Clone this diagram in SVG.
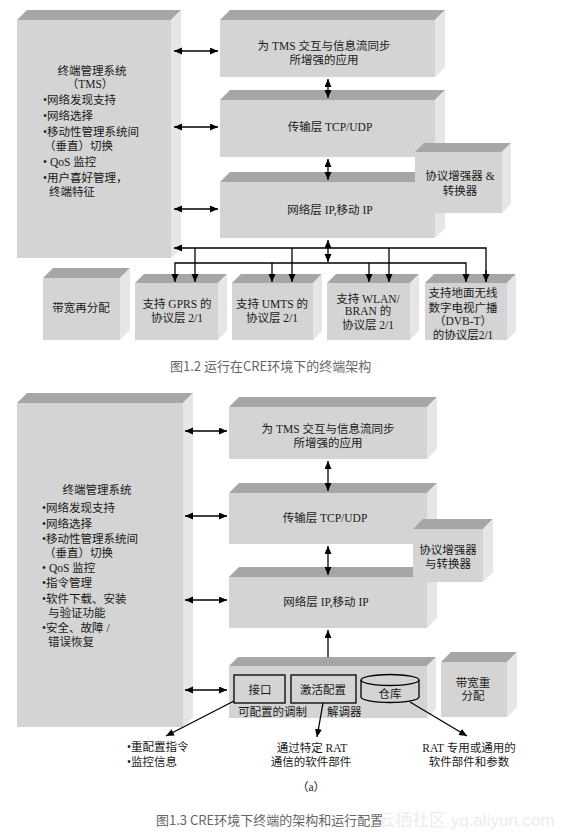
<svg xmlns="http://www.w3.org/2000/svg" width="572" height="835" viewBox="0 0 572 835">
<style>
.fr{fill:#d4d4d4}
.tp{fill:#a6a6a6}
.sd{fill:#e6e6e6}
.t{font-family:"Liberation Serif","Noto Sans CJK SC",serif;font-size:11.5px;fill:#1a1a1a}
.c{text-anchor:middle}
.ln{stroke:#000;stroke-width:1.3;fill:none}
.ib{fill:#d4d4d4;stroke:#000;stroke-width:1.3}
.cap{font-family:"Noto Sans CJK SC","Liberation Sans",sans-serif;font-size:13px;fill:#666}
.wm{font-family:"Liberation Sans","Noto Sans CJK SC",sans-serif;font-size:17px;fill:#ececec}
</style>
<defs>
<marker id="ah" markerUnits="userSpaceOnUse" markerWidth="9" markerHeight="8" refX="8" refY="3.5" orient="auto-start-reverse"><path d="M0,0 L8,3.5 L0,7 z" fill="#000"/></marker>
</defs>

<!-- ===== Figure 1.2 ===== -->
<g id="tms1">
<rect class="fr" x="17" y="20" width="154" height="238"/>
<polygon class="tp" points="17,20 27,10 181,10 171,20"/>
<polygon class="sd" points="171,20 181,10 181,248 171,258"/>
<text class="t c" x="92" y="75">终端管理系统</text>
<text class="t c" x="90" y="88">（TMS）</text>
<text class="t" x="43" y="104">•网络发现支持</text>
<text class="t" x="43" y="120">•网络选择</text>
<text class="t" x="43" y="136">•移动性管理系统间</text>
<text class="t" x="44" y="150">（垂直）切换</text>
<text class="t" x="43" y="166">• QoS 监控</text>
<text class="t" x="43" y="182">•用户喜好管理，</text>
<text class="t" x="49" y="196">终端特征</text>
</g>
<g id="app1">
<rect class="fr" x="220" y="20" width="215" height="57"/>
<polygon class="tp" points="220,20 230,10 445,10 435,20"/>
<polygon class="sd" points="435,20 445,10 445,67 435,77"/>
<text class="t c" x="324" y="50">为 TMS 交互与信息流同步</text>
<text class="t c" x="324" y="64">所增强的应用</text>
</g>
<g id="tr1">
<rect class="fr" x="220" y="100" width="215" height="57"/>
<polygon class="tp" points="220,100 230,90 445,90 435,100"/>
<polygon class="sd" points="435,100 445,90 445,147 435,157"/>
<text class="t c" x="330" y="131">传输层 TCP/UDP</text>
</g>
<g id="net1">
<rect class="fr" x="220" y="182" width="215" height="56"/>
<polygon class="tp" points="220,182 230,172 445,172 435,182"/>
<polygon class="sd" points="435,182 445,172 445,228 435,238"/>
<text class="t c" x="330" y="214">网络层 IP,移动 IP</text>
</g>
<g id="enh1">
<rect class="fr" x="415" y="152" width="87" height="61"/>
<polygon class="tp" points="415,152 424,143 511,143 502,152"/>
<polygon class="sd" points="502,152 511,143 511,204 502,213"/>
<text class="t c" x="460" y="180">协议增强器 &amp;</text>
<text class="t c" x="460" y="195">转换器</text>
</g>
<g id="bw1">
<rect class="fr" x="43" y="278" width="77" height="62"/>
<polygon class="tp" points="43,278 53,268 130,268 120,278"/>
<polygon class="sd" points="120,278 130,268 130,330 120,340"/>
<text class="t c" x="81" y="312">带宽再分配</text>
</g>
<g id="gprs">
<rect class="fr" x="135" y="283" width="83" height="57"/>
<polygon class="tp" points="135,283 144,274 227,274 218,283"/>
<polygon class="sd" points="218,283 227,274 227,331 218,340"/>
<text class="t c" x="177" y="308">支持 GPRS 的</text>
<text class="t c" x="177" y="322">协议层 2/1</text>
</g>
<g id="umts">
<rect class="fr" x="232" y="283" width="81" height="57"/>
<polygon class="tp" points="232,283 241,274 322,274 313,283"/>
<polygon class="sd" points="313,283 322,274 322,331 313,340"/>
<text class="t c" x="272" y="308">支持 UMTS 的</text>
<text class="t c" x="272" y="322">协议层 2/1</text>
</g>
<g id="wlan">
<rect class="fr" x="327" y="283" width="83" height="57"/>
<polygon class="tp" points="327,283 336,274 419,274 410,283"/>
<polygon class="sd" points="410,283 419,274 419,331 410,340"/>
<text class="t c" x="368" y="303">支持 WLAN/</text>
<text class="t c" x="368" y="315">BRAN 的</text>
<text class="t c" x="368" y="329">协议层 2/1</text>
</g>
<g id="dvb">
<rect class="fr" x="425" y="283" width="82" height="57"/>
<polygon class="tp" points="425,283 434,274 516,274 507,283"/>
<polygon class="sd" points="507,283 516,274 516,331 507,340"/>
<text class="t c" x="463" y="297">支持地面无线</text>
<text class="t c" x="463" y="312">数字电视广播</text>
<text class="t c" x="463" y="325">（DVB-T）</text>
<text class="t c" x="463" y="339">的协议层2/1</text>
</g>

<g id="connectors1">
<line class="ln" x1="174" y1="51" x2="218" y2="51" marker-start="url(#ah)" marker-end="url(#ah)"/>
<line class="ln" x1="174" y1="127" x2="218" y2="127" marker-start="url(#ah)" marker-end="url(#ah)"/>
<line class="ln" x1="174" y1="209" x2="218" y2="209" marker-start="url(#ah)" marker-end="url(#ah)"/>
<line class="ln" x1="328" y1="79" x2="328" y2="98" marker-start="url(#ah)" marker-end="url(#ah)"/>
<line class="ln" x1="328" y1="159" x2="328" y2="180" marker-start="url(#ah)" marker-end="url(#ah)"/>
<line class="ln" x1="328" y1="240" x2="328" y2="262" marker-start="url(#ah)" marker-end="url(#ah)"/>
<polyline class="ln" points="486,282 486,248 174,248" marker-end="url(#ah)"/>
<polyline class="ln" points="175,282 175,263 466,263 466,282" marker-start="url(#ah)" marker-end="url(#ah)"/>
<line class="ln" x1="195" y1="248" x2="195" y2="282" marker-end="url(#ah)"/>
<line class="ln" x1="292" y1="248" x2="292" y2="282" marker-end="url(#ah)"/>
<line class="ln" x1="389" y1="248" x2="389" y2="282" marker-end="url(#ah)"/>
<line class="ln" x1="272" y1="263" x2="272" y2="282" marker-end="url(#ah)"/>
<line class="ln" x1="369" y1="263" x2="369" y2="282" marker-end="url(#ah)"/>
<line class="ln" x1="486" y1="270" x2="486" y2="282" marker-end="url(#ah)"/>
</g>
<text class="cap" x="170" y="371">图1.2 运行在CRE环境下的终端架构</text>

<!-- ===== Figure 1.3 ===== -->
<g id="tms2">
<rect class="fr" x="17" y="403" width="166" height="324"/>
<polygon class="tp" points="17,403 27,393 193,393 183,403"/>
<polygon class="sd" points="183,403 193,393 193,717 183,727"/>
<text class="t c" x="97" y="494">终端管理系统</text>
<text class="t" x="42" y="512">•网络发现支持</text>
<text class="t" x="42" y="528">•网络选择</text>
<text class="t" x="42" y="543">•移动性管理系统间</text>
<text class="t" x="44" y="557">（垂直）切换</text>
<text class="t" x="42" y="572">• QoS 监控</text>
<text class="t" x="42" y="587">•指令管理</text>
<text class="t" x="42" y="603">•软件下载、安装</text>
<text class="t" x="48" y="617">与验证功能</text>
<text class="t" x="42" y="632">•安全、故障 /</text>
<text class="t" x="48" y="646">错误恢复</text>
</g>
<g id="app2">
<rect class="fr" x="229" y="407" width="198" height="52"/>
<polygon class="tp" points="229,407 239,397 437,397 427,407"/>
<polygon class="sd" points="427,407 437,397 437,449 427,459"/>
<text class="t c" x="328" y="433">为 TMS 交互与信息流同步</text>
<text class="t c" x="328" y="447">所增强的应用</text>
</g>
<g id="tr2">
<rect class="fr" x="229" y="493" width="198" height="51"/>
<polygon class="tp" points="229,493 239,483 437,483 427,493"/>
<polygon class="sd" points="427,493 437,483 437,534 427,544"/>
<text class="t c" x="325" y="522">传输层 TCP/UDP</text>
</g>
<g id="net2">
<rect class="fr" x="229" y="577" width="198" height="51"/>
<polygon class="tp" points="229,577 239,567 437,567 427,577"/>
<polygon class="sd" points="427,577 437,567 437,618 427,628"/>
<text class="t c" x="326" y="606">网络层 IP,移动 IP</text>
</g>
<g id="enh2">
<rect class="fr" x="413" y="529" width="70" height="53"/>
<polygon class="tp" points="413,529 423,519 493,519 483,529"/>
<polygon class="sd" points="483,529 493,519 493,572 483,582"/>
<text class="t c" x="448" y="554">协议增强器</text>
<text class="t c" x="448" y="568">与转换器</text>
</g>
<g id="cmd">
<rect class="fr" x="229" y="666" width="198" height="52"/>
<polygon class="tp" points="229,666 238,657 436,657 427,666"/>
<polygon class="sd" points="427,666 436,657 436,709 427,718"/>
<text class="t" x="238" y="716">可配置的调制</text>
<text class="t" x="327" y="716">解调器</text>
</g>
<g id="iface">
<rect class="ib" x="234" y="675" width="51" height="28"/>
<text class="t c" x="260" y="694">接口</text>
</g>
<g id="activ">
<rect class="ib" x="291" y="675" width="65" height="28"/>
<text class="t c" x="323" y="694">激活配置</text>
</g>
<g id="repo">
<path class="ib" d="M361,680 L361,697 A29,5.5 0 0 0 419,697 L419,680"/>
<ellipse class="ib" cx="390" cy="680" rx="29" ry="5.5"/>
<text class="t c" x="390" y="698">仓库</text>
</g>
<g id="bw2">
<rect class="fr" x="441" y="662" width="66" height="55"/>
<polygon class="tp" points="441,662 451,652 517,652 507,662"/>
<polygon class="sd" points="507,662 517,652 517,707 507,717"/>
<text class="t c" x="473" y="687">带宽重</text>
<text class="t c" x="473" y="700">分配</text>
</g>

<g id="connectors2">
<line class="ln" x1="185" y1="431" x2="227" y2="431" marker-start="url(#ah)" marker-end="url(#ah)"/>
<line class="ln" x1="185" y1="516" x2="227" y2="516" marker-start="url(#ah)" marker-end="url(#ah)"/>
<line class="ln" x1="185" y1="600" x2="227" y2="600" marker-start="url(#ah)" marker-end="url(#ah)"/>
<line class="ln" x1="185" y1="690" x2="227" y2="690" marker-start="url(#ah)" marker-end="url(#ah)"/>
<line class="ln" x1="328" y1="461" x2="328" y2="491" marker-start="url(#ah)" marker-end="url(#ah)"/>
<line class="ln" x1="328" y1="546" x2="328" y2="575" marker-start="url(#ah)" marker-end="url(#ah)"/>
<line class="ln" x1="328" y1="657" x2="328" y2="630" marker-end="url(#ah)"/>
<line class="ln" x1="234" y1="701" x2="166" y2="736" marker-end="url(#ah)"/>
<line class="ln" x1="323" y1="703" x2="317" y2="737" marker-end="url(#ah)"/>
<line class="ln" x1="410" y1="702" x2="467" y2="736" marker-end="url(#ah)"/>
</g>
<text class="t" x="127" y="751">•重配置指令</text>
<text class="t" x="127" y="766">•监控信息</text>
<text class="t c" x="312" y="752">通过特定 RAT</text>
<text class="t c" x="311" y="766">通信的软件部件</text>
<text class="t c" x="469" y="752">RAT 专用或通用的</text>
<text class="t c" x="469" y="766">软件部件和参数</text>
<text class="t c" x="311" y="791">（a）</text>
<text class="cap" x="156" y="825">图1.3 CRE环境下终端的架构和运行配置</text>
<text class="wm" x="378" y="826">云栖社区 yq.aliyun.com</text>
</svg>
